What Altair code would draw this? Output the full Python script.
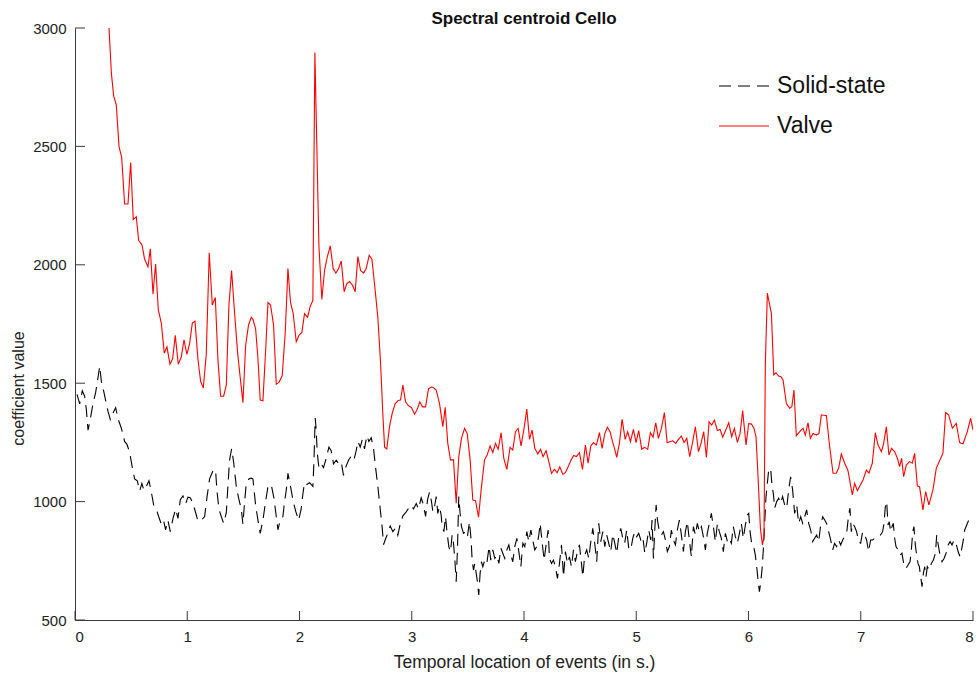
import altair as alt
import pandas as pd

# ---------------- data ----------------
valve_t = [0.303,0.324,0.344,0.368,0.392,0.416,0.442,0.472,0.496,0.519,0.546,0.567,0.597,0.620,0.650,0.671,0.695,0.718,0.742,0.769,
           0.795,0.819,0.846,0.870,0.893,0.920,0.947,0.971,0.997,1.021,1.045,1.069,1.095,1.119,1.143,1.169,1.196,1.223,1.250,1.273,
           1.297,1.324,1.348,1.371,1.395,1.422,1.449,1.472,1.496,1.520,1.546,1.570,1.585,1.609,1.630,1.650,1.674,1.698,1.719,1.742,
           1.769,1.793,1.817,1.846,1.873,1.897,1.920,1.944,1.971,1.995,2.021,2.045,2.072,2.096,2.119,2.137,2.173,2.199,2.223,
           2.247,2.274,2.300,2.324,2.348,2.372,2.398,2.422,2.446,2.473,2.496,2.520,2.544,2.571,2.594,2.621,2.645,2.668,2.698,2.722,
           2.743,2.758,2.778,2.802,2.826,2.852,2.876,2.900,2.921,2.945,2.971,2.998,3.025,3.048,3.072,3.096,3.123,3.149,3.173,3.188,
           3.218,3.247,3.277,3.298,3.321,3.345,3.372,3.396,3.419,3.443,3.470,3.494,3.520,3.544,3.568,3.595,3.618,3.648,3.672,3.698,
           3.722,3.746,3.770,3.796,3.820,3.847,3.876,3.900,3.924,3.948,3.974,3.998,4.025,4.049,4.072,4.096,4.123,4.147,4.170,4.197,
           4.221,4.245,4.271,4.295,4.319,4.346,4.369,4.393,4.420,4.443,4.467,4.494,4.521,4.547,4.571,4.595,4.619,4.645,4.672,4.696,
           4.720,4.743,4.767,4.791,4.806,4.826,4.850,4.874,4.901,4.924,4.948,4.975,4.998,5.022,5.049,5.073,5.102,5.126,5.150,5.174,
           5.197,5.224,5.251,5.275,5.301,5.325,5.352,5.376,5.402,5.426,5.450,5.476,5.500,5.527,5.554,5.577,5.601,5.625,5.649,5.672,
           5.696,5.723,5.747,5.770,5.797,5.824,5.850,5.874,5.901,5.925,5.948,5.978,6.002,6.028,6.049,6.067,6.088,6.106,6.124,6.138,
           6.150,6.168,6.186,6.204,6.225,6.245,6.269,6.290,6.308,6.337,6.367,6.386,6.405,6.426,6.456,6.486,6.506,6.530,6.551,6.575,
           6.605,6.628,6.649,6.694,6.723,6.753,6.782,6.803,6.827,6.857,6.886,6.925,6.946,6.970,6.996,7.020,7.050,7.073,7.103,7.130,
           7.154,7.184,7.204,7.228,7.251,7.275,7.302,7.326,7.346,7.364,7.382,7.406,7.435,7.459,7.480,7.504,7.524,7.554,7.578,7.607,
           7.643,7.673,7.732,7.756,7.783,7.816,7.851,7.881,7.911,7.949,7.979,8.000]
valve_v = [3000,2810,2714,2675,2500,2452,2257,2257,2432,2191,2203,2103,2084,2024,1992,2068,1876,2003,1810,1754,
           1627,1654,1580,1603,1702,1580,1611,1683,1622,1667,1754,1762,1603,1508,1480,1619,2051,1830,1862,1603,
           1445,1445,1492,1826,1976,1794,1627,1524,1418,1659,1746,1778,1770,1730,1603,1429,1426,1635,1841,1830,
           1746,1496,1503,1532,1714,1984,1841,1794,1675,1702,1714,1794,1778,1826,1849,2897,2080,1854,1976,
           2032,2080,1984,1965,1984,2016,1886,1921,1929,1913,1886,2035,1976,1965,1984,2040,2024,1921,1778,1588,
           1365,1230,1222,1318,1373,1413,1426,1429,1492,1421,1405,1397,1369,1389,1421,1400,1400,1476,1484,1483,
           1471,1415,1316,1398,1246,1176,1176,993,1190,1267,1309,1288,1176,1007,1004,934,1049,1176,1197,1235,
           1207,1246,1221,1291,1183,1136,1229,1218,1295,1309,1235,1302,1391,1263,1302,1225,1201,1221,1190,1215,
           1169,1119,1136,1122,1147,1115,1122,1147,1176,1195,1190,1207,1136,1239,1162,1235,1249,1239,1291,1225,
           1288,1314,1295,1250,1225,1187,1246,1348,1263,1295,1253,1305,1249,1300,1221,1229,1221,1291,1272,1333,
           1267,1309,1376,1249,1253,1257,1246,1263,1277,1249,1267,1190,1246,1316,1211,1246,1295,1187,1337,1323,
           1344,1300,1305,1272,1302,1333,1274,1309,1250,1288,1384,1239,1330,1327,1309,1274,1077,887,817,852,
           1584,1880,1837,1795,1535,1544,1530,1527,1513,1415,1394,1401,1471,1278,1295,1310,1281,1333,1267,1288,
           1281,1288,1366,1363,1232,1120,1120,1141,1201,1162,1131,1028,1077,1046,1070,1091,1133,1120,1162,1291,
           1239,1211,1246,1316,1197,1225,1211,1183,1148,1183,1105,1155,1169,1162,1204,1066,1063,965,1042,986,
           1049,1141,1204,1376,1366,1310,1330,1249,1244,1295,1352,1302]

solid_t = [0.018,0.042,0.065,0.086,0.101,0.116,0.137,0.160,0.184,0.205,0.220,0.235,0.255,0.279,0.294,0.315,0.338,0.362,0.383,0.413,
           0.442,0.463,0.487,0.508,0.531,0.555,0.576,0.596,0.614,0.635,0.659,0.680,0.701,0.724,0.745,0.769,0.789,0.807,0.828,0.849,
           0.873,0.897,0.917,0.938,0.962,0.986,1.006,1.027,1.051,1.075,1.095,1.125,1.155,1.175,1.199,1.229,1.252,1.264,1.282,1.303,
           1.324,1.348,1.362,1.377,1.395,1.413,1.437,1.457,1.481,1.496,1.511,1.525,1.549,1.570,1.585,1.609,1.630,1.650,1.674,1.698,
           1.719,1.748,1.772,1.793,1.808,1.828,1.852,1.867,1.882,1.897,1.917,1.941,1.965,1.992,2.015,2.030,2.045,2.066,2.090,2.119,
           2.128,2.140,2.149,2.158,2.173,2.194,2.214,2.238,2.262,2.282,2.303,2.327,2.351,2.372,2.392,2.416,2.440,2.461,2.484,2.505,
           2.520,2.541,2.559,2.579,2.600,2.618,2.639,2.660,2.678,2.698,2.719,2.737,2.749,2.766,2.787,2.808,2.832,2.856,2.876,2.897,
           2.921,2.945,2.968,2.995,3.016,3.040,3.060,3.084,3.105,3.123,3.141,3.158,3.176,3.188,3.203,3.218,3.232,3.247,3.262,3.271,
           3.286,3.301,3.312,3.330,3.345,3.360,3.372,3.384,3.396,3.407,3.419,3.431,3.443,3.461,3.479,3.496,3.514,3.529,3.538,3.550,
           3.562,3.574,3.585,3.597,3.609,3.621,3.633,3.651,3.669,3.689,3.704,3.722,3.740,3.758,3.776,3.794,3.811,3.829,3.847,3.865,
           3.883,3.900,3.918,3.936,3.954,3.972,3.990,4.007,4.025,4.043,4.061,4.078,4.096,4.114,4.132,4.144,4.161,4.179,4.197,4.215,
           4.227,4.245,4.262,4.280,4.298,4.316,4.334,4.352,4.369,4.387,4.405,4.423,4.441,4.458,4.476,4.494,4.512,4.524,4.541,4.559,
           4.577,4.595,4.613,4.630,4.648,4.666,4.684,4.702,4.720,4.737,4.755,4.773,4.791,4.809,4.826,4.844,4.862,4.880,4.897,4.915,
           4.933,4.951,4.969,4.987,5.004,5.022,5.040,5.058,5.076,5.093,5.111,5.129,5.141,5.153,5.165,5.177,5.189,5.206,5.224,5.242,
           5.260,5.277,5.295,5.313,5.331,5.349,5.366,5.384,5.402,5.420,5.438,5.455,5.473,5.491,5.509,5.527,5.544,5.562,5.580,5.598,
           5.616,5.633,5.651,5.669,5.687,5.705,5.723,5.740,5.758,5.776,5.794,5.812,5.829,5.847,5.865,5.883,5.901,5.919,5.936,5.954,
           5.972,5.990,6.002,6.014,6.032,6.049,6.061,6.073,6.085,6.097,6.108,6.120,6.132,6.144,6.156,6.168,6.180,6.197,6.209,6.221,
           6.233,6.251,6.269,6.286,6.304,6.322,6.340,6.358,6.375,6.393,6.411,6.429,6.447,6.465,6.483,6.500,6.518,6.536,6.554,6.572,
           6.589,6.607,6.625,6.643,6.661,6.679,6.696,6.714,6.732,6.750,6.767,6.785,6.803,6.821,6.839,6.857,6.874,6.892,6.904,6.916,
           6.928,6.946,6.963,6.981,6.999,7.017,7.035,7.052,7.070,7.088,7.106,7.124,7.141,7.159,7.177,7.195,7.207,7.219,7.231,7.243,
           7.254,7.266,7.278,7.290,7.302,7.314,7.332,7.350,7.367,7.385,7.403,7.421,7.439,7.451,7.463,7.474,7.486,7.498,7.510,7.522,
           7.534,7.546,7.558,7.570,7.581,7.593,7.611,7.629,7.647,7.665,7.677,7.688,7.706,7.724,7.742,7.760,7.778,7.796,7.813,7.831,
           7.849,7.867,7.885,7.903,7.914,7.926,7.944,7.962,7.980,7.997]
solid_v = [1453,1413,1468,1445,1389,1302,1350,1413,1461,1524,1572,1508,1468,1413,1381,1346,1373,1397,1350,1310,
           1254,1242,1207,1151,1096,1088,1045,1077,1048,1064,1088,1040,985,969,937,905,921,881,921,873,
           929,969,929,1008,1024,992,1019,1016,992,953,918,921,937,1016,1096,1130,1135,1048,969,937,
           908,953,1064,1175,1223,1167,1064,1016,969,905,1000,1072,1096,1099,1096,985,921,866,921,1000,
           1064,1072,1016,937,881,921,937,1000,1048,1119,1072,1008,961,921,969,1032,1080,1072,1080,1064,
           1159,1353,1302,1207,1143,1159,1143,1183,1230,1215,1159,1175,1159,1167,1111,1151,1178,1191,1175,1215,
           1254,1230,1262,1223,1278,1254,1270,1223,1143,1064,969,889,818,842,866,897,873,889,858,905,
           940,953,969,985,969,992,969,1016,985,937,1008,1040,1000,957,979,1021,950,979,943,894,
           873,936,880,810,789,859,824,753,662,796,1021,950,894,866,873,852,915,838,753,711,
           739,697,662,606,697,746,725,753,739,810,753,796,760,774,739,803,782,760,796,817,
           774,746,810,845,789,725,824,810,873,831,880,838,796,810,859,908,831,753,817,880,
           760,739,753,725,676,739,817,683,789,739,767,725,796,746,789,817,739,683,774,796,
           760,831,887,824,746,908,831,873,810,859,824,789,862,824,782,852,887,845,824,880,
           803,796,845,873,852,866,838,852,782,824,880,838,922,760,880,986,922,873,859,873,
           838,789,810,880,838,817,880,922,859,789,873,915,838,767,894,859,908,873,894,852,
           796,866,908,950,894,831,908,873,845,789,866,831,845,824,894,852,824,866,908,845,
           901,943,950,873,810,803,774,725,669,620,655,711,796,908,1021,1077,1136,1140,1070,1035,
           972,1000,1014,993,1021,986,972,1049,1105,1050,950,986,908,936,908,936,965,908,880,831,
           845,859,831,901,936,922,908,873,838,796,824,810,838,817,838,852,866,943,972,873,
           908,894,873,831,824,873,859,838,789,838,838,845,845,852,859,873,908,979,1000,901,
           915,873,894,908,845,810,796,774,782,732,718,732,746,796,873,894,817,774,739,725,
           683,641,697,725,683,725,711,739,753,782,859,824,774,746,760,782,817,831,817,838,
           824,789,767,810,838,880,901,922,915,922]

series_names = ["Solid-state", "Valve"]
x_ticks = [0, 1, 2, 3, 4, 5, 6, 7, 8]
y_ticks = [500, 1000, 1500, 2000, 2500, 3000]

df = pd.concat([
    pd.DataFrame({"t": solid_t, "v": solid_v, "series": series_names[0], "o": range(len(solid_t))}),
    pd.DataFrame({"t": valve_t, "v": valve_v, "series": series_names[1], "o": range(len(valve_t))}),
])

W, H = 898, 592
FONT = "Liberation Sans"
AX = "#3a3a3a"

xscale = alt.Scale(domain=[0, 8], nice=False, zero=False)
yscale = alt.Scale(domain=[500, 3000], nice=False, zero=False)

lines = alt.Chart(df).mark_line(strokeWidth=1.1, clip=True).encode(
    x=alt.X("t:Q", scale=xscale,
            axis=alt.Axis(values=x_ticks, title="Temporal location of events (in s.)",
                          ticks=False, grid=False, labelPadding=9, format="d",
                          titleY=42, titleBaseline="middle", titleFontSize=17.5)),
    y=alt.Y("v:Q", scale=yscale,
            axis=alt.Axis(values=y_ticks, title="coefficient value", ticks=False, grid=False,
                          labelPadding=9, format="d", titleX=-57, titleY=360,
                          titleAngle=270, titleBaseline="middle", titleAlign="center",
                          titleFontSize=16)),
    color=alt.Color("series:N", scale=alt.Scale(domain=series_names, range=["#000000", "#ff0000"]),
                    legend=alt.Legend(title=None, orient="none", legendX=643, legendY=38,
                                      symbolType="stroke", symbolSize=2500, symbolStrokeWidth=1.1,
                                      labelFontSize=23, labelFont=FONT, labelColor="#111111",
                                      labelOffset=7, clipHeight=40, rowPadding=0, padding=0)),
    strokeDash=alt.StrokeDash("series:N", scale=alt.Scale(domain=series_names, range=[[12, 7], [1, 0]]),
                              legend=None),
    detail="series:N",
    order="o:Q",
)

ytick_df = pd.DataFrame({"v": y_ticks})
xtick_df = pd.DataFrame({"t": x_ticks})
yt = alt.Chart(ytick_df).mark_rule(color=AX, strokeWidth=1).encode(
    y=alt.Y("v:Q", scale=yscale), x=alt.value(0), x2=alt.value(10))
xt = alt.Chart(xtick_df).mark_rule(color=AX, strokeWidth=1).encode(
    x=alt.X("t:Q", scale=xscale), y=alt.value(H), y2=alt.value(H - 9))

chart = alt.layer(lines, yt, xt).properties(
    width=W, height=H,
    padding={"left": 75, "top": 28, "right": 7, "bottom": 57},
    autosize="none",
    title=alt.TitleParams("Spectral centroid Cello", fontSize=17, fontWeight="bold",
                          font=FONT, color="#111111", anchor="middle", offset=4, dy=11),
).configure_view(stroke=None).configure_axis(
    domainColor=AX, domainWidth=1, labelFont=FONT, labelFontSize=15, labelColor="#222222",
    titleFont=FONT, titleFontSize=15, titleFontWeight="normal", titleColor="#222222",
)

chart.save("out.html", embed_options={"renderer": "svg", "actions": False})
